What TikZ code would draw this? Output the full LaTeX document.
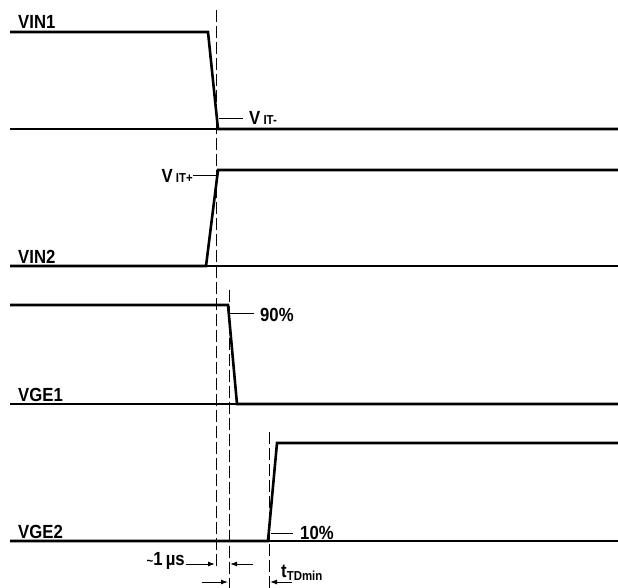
\documentclass[tikz,border=0pt]{standalone}
\usepackage{fontspec}
\setmainfont[FakeStretch=0.88]{Liberation Sans}
\usetikzlibrary{arrows.meta}
\tikzset{
  wave/.style={line width=2.6pt, line join=miter},
  base/.style={line width=1.1pt},
  guide/.style={line width=0.8pt, dash pattern=on 12pt off 4pt},
  tick/.style={line width=1pt},
  lbl/.style={font=\fontsize{19}{19}\selectfont\bfseries, inner sep=0pt},
  dim/.style={line width=1pt, -{Latex[length=7pt,width=5pt]}},
}
\begin{document}
\begin{tikzpicture}[x=1pt,y=-1pt]
\useasboundingbox (0,0) rectangle (618,588);
% baselines
\draw[base] (10,129) -- (618,129);
\draw[base] (10,266) -- (618,266);
\draw[base] (10,404) -- (618,404);
\draw[base] (10,541) -- (618,541);
% waveforms
\draw[wave] (10,32) -- (208,32) -- (218,129) -- (618,129);
\draw[wave] (10,266) -- (206,266) -- (218,170) -- (618,170);
\draw[wave] (10,305) -- (228,305) -- (237,404) -- (618,404);
\draw[wave] (10,541) -- (268,541) -- (277,443) -- (618,443);
% guides
\coordinate (g1t) at (216,10);   \coordinate (g1b) at (216,568);
\coordinate (g2t) at (229,290);  \coordinate (g2b) at (229,588);
\coordinate (g3t) at (269,432);  \coordinate (g3b) at (269,588);
\draw[guide] (g1t) -- (g1b);
\draw[guide] (g2t) -- (g2b);
\draw[guide] (g3t) -- (g3b);
% signal labels
\node[lbl, anchor=base west] (vin1) at (18,29) {VIN1};
\node[lbl, anchor=base west] (vin2) at (18,263) {VIN2};
\node[lbl, anchor=base west] (vge1) at (18,401) {VGE1};
\node[lbl, anchor=base west] (vge2) at (18,538) {VGE2};
% threshold labels
\coordinate (t1a) at (219,119); \coordinate (t1b) at (243,119);
\draw[tick] (t1a) -- (t1b);
\node[lbl, anchor=west] (vitm) at (249,118) {V\,{\fontsize{13}{13}\selectfont IT-}};
\coordinate (t2a) at (193,176); \coordinate (t2b) at (217,176);
\draw[tick] (t2a) -- (t2b);
\node[lbl, anchor=east] (vitp) at (193,176) {V\,{\fontsize{13}{13}\selectfont IT+}};
\coordinate (t3a) at (229,313); \coordinate (t3b) at (254,313);
\draw[tick] (t3a) -- (t3b);
\node[lbl, anchor=west] (p90) at (260,315) {90\%};
\coordinate (t4a) at (271,533); \coordinate (t4b) at (293,533);
\draw[tick] (t4a) -- (t4b);
\node[lbl, anchor=west] (p10) at (300,533) {10\%};
% dimensions
\node[lbl, anchor=east] (us) at (185,561) {{\fontsize{13}{13}\selectfont\textasciitilde}1\,µs};
\coordinate (a1s) at (186,564); \coordinate (a1e) at (215,564);
\draw[dim] (a1s) -- (a1e);
\coordinate (a2s) at (253,564); \coordinate (a2e) at (230,564);
\draw[dim] (a2s) -- (a2e);
\coordinate (a3s) at (202,582); \coordinate (a3e) at (228,582);
\draw[dim] (a3s) -- (a3e);
\coordinate (a4s) at (292,582); \coordinate (a4e) at (270,582);
\draw[dim] (a4s) -- (a4e);
\node[lbl, anchor=base west] (ttd) at (281,577) {t\raisebox{-3pt}{\fontsize{13}{13}\selectfont TDmin}};
\end{tikzpicture}
\end{document}
